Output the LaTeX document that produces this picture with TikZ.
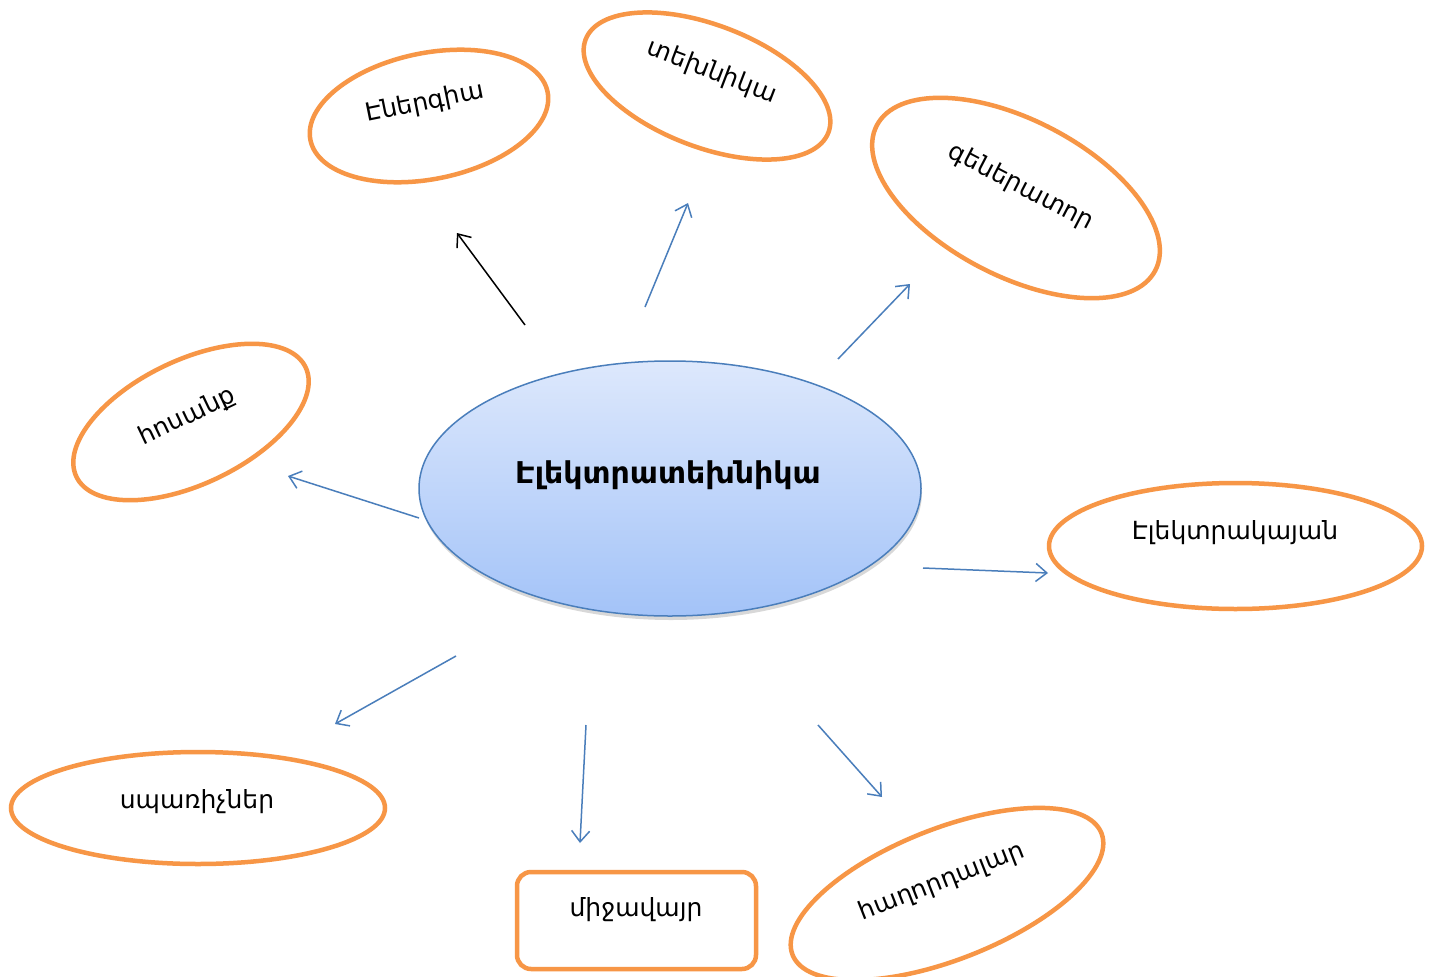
\documentclass[tikz,border=0pt]{standalone}
\usepackage{fontspec}
\setmainfont{DejaVu Sans}
\usetikzlibrary{shapes.geometric,arrows.meta,shadows}
\definecolor{org}{HTML}{F79646}
\definecolor{blu}{HTML}{4A7EBB}
\definecolor{ctop}{HTML}{DDE8FC}
\definecolor{cbot}{HTML}{A3C3F8}
\begin{document}
\begin{tikzpicture}[x=1pt,y=-1pt,
 oell/.style={ellipse, draw=org, line width=4.5pt, inner sep=0pt},
 lbl/.style={font=\fontsize{25}{30}\selectfont, inner sep=0pt},
 conn/.style={draw=blu, line width=1.5pt, -{Straight Barb[length=11pt,width=18pt]}},
 connb/.style={conn, draw=black},
]
\useasboundingbox[fill=white] (0,0) rectangle (1435,977);
% outer ellipses
\node[oell, minimum width=242pt, minimum height=126pt, rotate=11.5] (e1) at (429,116) {};
\node[oell, minimum width=260pt, minimum height=122pt, rotate=-21] (e2) at (707,86) {};
\node[oell, minimum width=314pt, minimum height=156pt, rotate=-27.5] (e3) at (1016,198) {};
\node[oell, minimum width=254pt, minimum height=124pt, rotate=25.5] (e4) at (191,422) {};
\node[oell, minimum width=373pt, minimum height=126pt] (e6) at (1235.5,546) {};
\node[oell, minimum width=374pt, minimum height=112pt] (e7) at (198,808) {};
\node[oell, minimum width=332pt, minimum height=131pt, rotate=21.5] (e9) at (947,894) {};
\node[draw=org, line width=4.5pt, rounded corners=14pt, minimum width=239pt, minimum height=97pt, inner sep=0pt] (r8) at (636.5,920.5) {};
% central
\node[ellipse, draw=blu, line width=1.5pt, top color=ctop, bottom color=cbot,
      minimum width=502pt, minimum height=255pt, inner sep=0pt,
      drop shadow={shadow xshift=1pt, shadow yshift=-4pt, opacity=0.3}] (c) at (670,488.5) {};
% labels
\node[lbl, rotate=11.5] (t1) at (425,103) {Էներգիա};
\node[lbl, rotate=-21] (t2) at (712,72) {տեխնիկա};
\node[lbl, rotate=-27.5] (t3) at (1021,187) {գեներատոր};
\node[lbl, rotate=25.5] (t4) at (187,417) {հոսանք};
\node[font=\bfseries\fontsize{30}{36}\selectfont, inner sep=0pt] (tc) at (668,475) {Էլեկտրատեխնիկա};
\node[lbl] (t6) at (1235,533) {Էլեկտրակայան};
\node[lbl] (t7) at (197,802) {սպառիչներ};
\node[lbl] (t8) at (636,910) {միջավայր};
\node[lbl, rotate=21.5] (t9) at (942,882) {հաղորդալար};
% arrow ends
\coordinate (a1s) at (525,325); \coordinate (a1e) at (457,233);
\coordinate (a2s) at (645,307); \coordinate (a2e) at (688,203);
\coordinate (a3s) at (838,359); \coordinate (a3e) at (910,284);
\coordinate (a4s) at (419,518); \coordinate (a4e) at (288,476);
\coordinate (a5s) at (923,568); \coordinate (a5e) at (1048,573);
\coordinate (a6s) at (456,656); \coordinate (a6e) at (335,724);
\coordinate (a7s) at (586,725); \coordinate (a7e) at (580,843);
\coordinate (a8s) at (818,725); \coordinate (a8e) at (882,797);
\draw[connb] (a1s) -- (a1e);
\draw[conn] (a2s) -- (a2e);
\draw[conn] (a3s) -- (a3e);
\draw[conn] (a4s) -- (a4e);
\draw[conn] (a5s) -- (a5e);
\draw[conn] (a6s) -- (a6e);
\draw[conn] (a7s) -- (a7e);
\draw[conn] (a8s) -- (a8e);
\end{tikzpicture}
\end{document}
